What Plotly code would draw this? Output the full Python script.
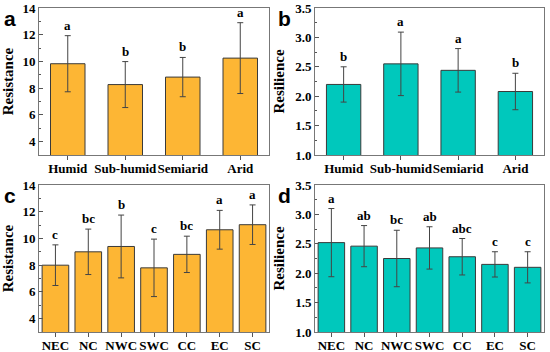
import plotly.graph_objects as go

climate = ["Humid", "Sub-humid", "Semiarid", "Arid"]
region = ["NEC", "NC", "NWC", "SWC", "CC", "EC", "SC"]

res_climate = [9.83, 8.27, 8.83, 10.25]
res_climate_sd = [2.1, 1.72, 1.47, 2.65]
res_climate_lbl = ["a", "b", "b", "a"]

resil_climate = [2.20, 2.55, 2.44, 2.08]
resil_climate_sd = [0.30, 0.54, 0.37, 0.31]
resil_climate_lbl = ["b", "a", "a", "b"]

res_region = [8.0, 9.0, 9.4, 7.8, 8.81, 10.65, 11.03]
res_region_sd = [1.52, 1.7, 2.35, 2.15, 1.36, 1.45, 1.48]
res_region_lbl = ["c", "bc", "b", "c", "bc", "a", "a"]

resil_region = [2.52, 2.46, 2.25, 2.43, 2.28, 2.15, 2.10]
resil_region_sd = [0.58, 0.35, 0.48, 0.36, 0.31, 0.215, 0.265]
resil_region_lbl = ["a", "ab", "bc", "ab", "abc", "c", "c"]

ORANGE = "#FDB634"
TEAL = "#00C8BC"
SERIF = "Liberation Serif, Times New Roman, serif"

fig = go.Figure()

panels = [
    ("x", "y", climate, res_climate, res_climate_sd, res_climate_lbl, ORANGE, 0.6),
    ("x2", "y2", climate, resil_climate, resil_climate_sd, resil_climate_lbl, TEAL, 0.6),
    ("x3", "y3", region, res_region, res_region_sd, res_region_lbl, ORANGE, 0.81),
    ("x4", "y4", region, resil_region, resil_region_sd, resil_region_lbl, TEAL, 0.81),
]

annotations = []
for xa, ya, cats, vals, sds, lbls, col, w in panels:
    fig.add_trace(go.Bar(
        x=cats, y=vals, xaxis=xa, yaxis=ya, width=w,
        marker=dict(color=col, line=dict(color="#3a3a3a", width=1)),
        error_y=dict(type="data", array=sds, visible=True, color="#444444", thickness=1, width=3),
        showlegend=False, hoverinfo="skip",
    ))
    for c, v, s, l in zip(cats, vals, sds, lbls):
        annotations.append(dict(
            x=c, y=v + s, xref=xa, yref=ya, text=l, showarrow=False,
            yanchor="bottom", yshift=1,
            font=dict(family=SERIF, size=13, color="black", weight="bold"),
        ))

for txt, x, y in [("a", 2 / 550, 1 - 18 / 352), ("b", 276 / 550, 1 - 18 / 352),
                  ("c", 2 / 550, 1 - 195 / 352), ("d", 276 / 550, 1 - 195 / 352)]:
    annotations.append(dict(
        x=x, y=y, xref="paper", yref="paper", text=txt, showarrow=False,
        xanchor="left", yanchor="middle",
        font=dict(family="Liberation Sans, Arial, sans-serif", size=21, color="black", weight="bold"),
    ))

xdom_l = [39 / 550, 269 / 550]
xdom_r = [315 / 550, 544 / 550]
ydom_t = [1 - 155 / 352, 1 - 8 / 352]
ydom_b = [1 - 332 / 352, 1 - 185 / 352]

axis_common = dict(showline=True, linecolor="#777777", linewidth=1, mirror=True,
                   showgrid=False, zeroline=False, automargin=False)
tickfont = dict(family=SERIF, size=13, color="black", weight="bold")
titlefont = dict(family=SERIF, size=15, color="black", weight="bold")

def xax(dom, anchor, n):
    return dict(domain=dom, anchor=anchor, range=[-0.5, n - 0.5], ticks="outside",
                ticklen=4, tickcolor="#555555", tickfont=tickfont, type="category",
                tickangle=0, ticklabelstandoff=-3, **axis_common)

def yax(dom, anchor, rng, dtick, minor, title, fmt):
    return dict(domain=dom, anchor=anchor, range=rng, dtick=dtick, tick0=0, ticks="inside",
                ticklen=4, tickcolor="#555555", tickfont=tickfont, tickformat=fmt,
                minor=dict(dtick=minor, ticks="inside", ticklen=2, tickcolor="#555555", tick0=0),
                title=dict(text=title, font=titlefont, standoff=6),
                **axis_common)

fig.update_layout(
    width=550, height=352,
    margin=dict(l=0, r=0, t=0, b=0),
    paper_bgcolor="white", plot_bgcolor="white",
    bargap=0.2, hovermode=False,
    xaxis=xax(xdom_l, "y", 4),
    yaxis=yax(ydom_t, "x", [3, 14], 2, 1, "Resistance", "d"),
    xaxis2=xax(xdom_r, "y2", 4),
    yaxis2=yax(ydom_t, "x2", [1, 3.5], 0.5, 0.25, "Resilience", ".1f"),
    xaxis3=xax(xdom_l, "y3", 7),
    yaxis3=yax(ydom_b, "x3", [3, 14], 2, 1, "Resistance", "d"),
    xaxis4=xax(xdom_r, "y4", 7),
    yaxis4=yax(ydom_b, "x4", [1, 3.5], 0.5, 0.25, "Resilience", ".1f"),
    annotations=annotations,
)

fig.write_html(
    "out.html",
    config={"displayModeBar": False, "staticPlot": True},
    post_script="document.body.style.margin='0';document.body.style.padding='0';document.body.style.overflow='hidden';",
)
